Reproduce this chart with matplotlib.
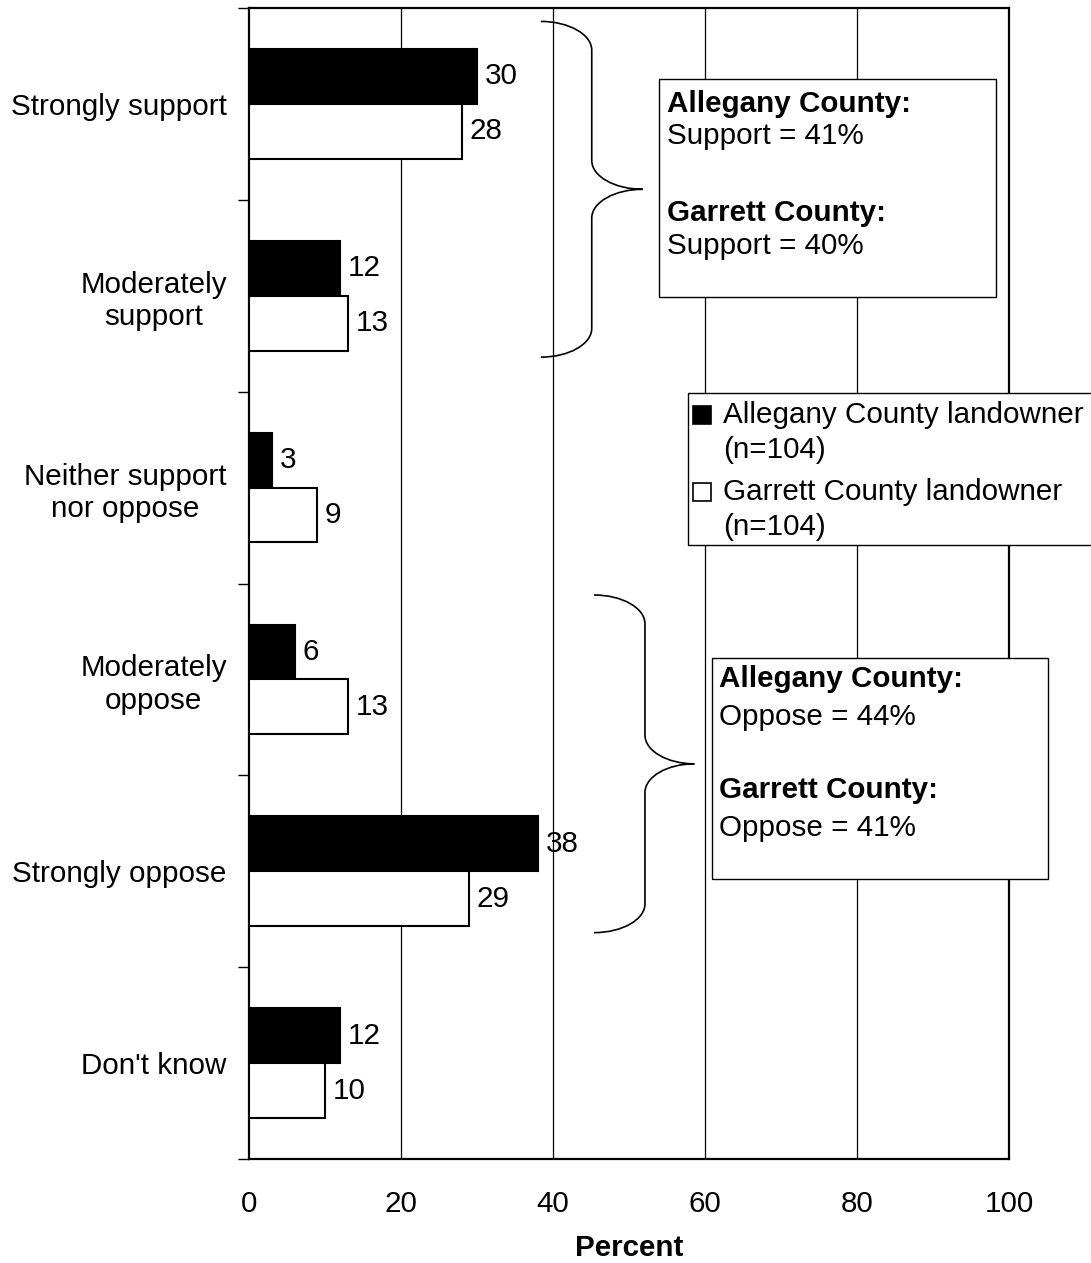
import matplotlib.pyplot as plt
from matplotlib.path import Path
from matplotlib.patches import PathPatch, Rectangle

plt.rcParams['font.family'] = ['Liberation Sans', 'DejaVu Sans']

## data
categories = ['Strongly support', 'Moderately\nsupport', 'Neither support\nnor oppose',
              'Moderately\noppose', 'Strongly oppose', "Don't know"]
allegany = [30, 12, 3, 6, 38, 12]
garrett = [28, 13, 9, 13, 29, 10]
xticks = [0, 20, 40, 60, 80, 100]

W, H = 1091, 1263
fig = plt.figure(figsize=(W / 100, H / 100), dpi=100)
ax = fig.add_axes([249 / W, 1 - 1159 / H, (1009 - 249) / W, (1159 - 8) / H])

fs = 21.3
h = 0.286
ypos = list(range(len(categories)))

ax.barh([y - h / 2 for y in ypos], allegany, height=h, color='black',
        edgecolor='black', linewidth=1.5, zorder=3)
ax.barh([y + h / 2 for y in ypos], garrett, height=h, color='white',
        edgecolor='black', linewidth=1.5, zorder=3)

for y, a, g in zip(ypos, allegany, garrett):
    ax.text(a + 1, y - h / 2, str(a), va='center', ha='left', fontsize=fs, zorder=4)
    ax.text(g + 1, y + h / 2, str(g), va='center', ha='left', fontsize=fs, zorder=4)

ax.set_xlim(0, 100)
ax.set_ylim(len(categories) - 0.5, -0.5)
ax.set_xticks(xticks)
ax.set_xticklabels([str(t) for t in xticks], fontsize=fs)
ax.tick_params(axis='x', length=0, pad=22)
ax.set_yticks(ypos)
ax.set_yticklabels(categories, fontsize=fs, multialignment='center')
ax.set_yticks([y - 0.5 for y in range(len(categories) + 1)], minor=True)
ax.tick_params(axis='y', which='major', length=0, pad=16)
ax.tick_params(axis='y', which='minor', length=8, width=1, direction='out')
ax.set_xlabel('Percent', fontsize=fs, fontweight='bold', labelpad=12)

for x in xticks[1:-1]:
    ax.axvline(x, color='black', linewidth=0.9, zorder=1)
for s in ax.spines.values():
    s.set_linewidth(1.6)


## curly braces
def brace(x0, xm, xt, ytop, ybot, r):
    k = 0.55
    ymid = (ytop + ybot) / 2
    verts = [(x0, ytop), (x0 + k * (xm - x0), ytop), (xm, ytop + r - k * r), (xm, ytop + r),
             (xm, ymid - r),
             (xm, ymid - r + k * r), (xt - k * (xt - xm), ymid), (xt, ymid),
             (xt - k * (xt - xm), ymid), (xm, ymid + r - k * r), (xm, ymid + r),
             (xm, ybot - r),
             (xm, ybot - r + k * r), (x0 + k * (xm - x0), ybot), (x0, ybot)]
    codes = [Path.MOVETO, Path.CURVE4, Path.CURVE4, Path.CURVE4,
             Path.LINETO,
             Path.CURVE4, Path.CURVE4, Path.CURVE4,
             Path.CURVE4, Path.CURVE4, Path.CURVE4,
             Path.LINETO,
             Path.CURVE4, Path.CURVE4, Path.CURVE4]
    ax.add_patch(PathPatch(Path(verts, codes), fill=False, lw=1.2,
                           edgecolor='black', zorder=5, clip_on=False))


brace(38.4, 45.1, 51.8, -0.43, 1.32, 0.15)
brace(45.4, 52.1, 58.6, 2.56, 4.32, 0.15)


## summary boxes and legend (pixel positions)
def fx(x):
    return x / W


def fy(y):
    return 1 - y / H


def box(x0, y0, x1, y1):
    fig.add_artist(Rectangle((fx(x0), fy(y1)), fx(x1) - fx(x0), fy(y0) - fy(y1),
                             transform=fig.transFigure, facecolor='white',
                             edgecolor='black', linewidth=1.0, zorder=6))


def line(x, y, s, bold=False):
    fig.text(fx(x), fy(y), s, fontsize=fs, va='center', ha='left',
             fontweight='bold' if bold else 'normal', zorder=7)


box(659, 79, 996, 297)
line(667, 104, 'Allegany County:', True)
line(667, 136, 'Support = 41%')
line(667, 213, 'Garrett County:', True)
line(667, 246, 'Support = 40%')

box(712, 658, 1048, 879)
line(719, 679, 'Allegany County:', True)
line(719, 717, 'Oppose = 44%')
line(719, 790, 'Garrett County:', True)
line(719, 828, 'Oppose = 41%')

box(688, 393, 1100, 545)
for yc, col in [(415, 'black'), (492, 'white')]:
    fig.add_artist(Rectangle((fx(693), fy(yc + 9)), fx(18), 18 / H,
                             transform=fig.transFigure, facecolor=col,
                             edgecolor='black', linewidth=1.2, zorder=7))
line(723, 415, 'Allegany County landowner')
line(723, 450, '(n=104)')
line(723, 492, 'Garrett County landowner')
line(723, 527, '(n=104)')

plt.savefig('out.png', dpi=100)
